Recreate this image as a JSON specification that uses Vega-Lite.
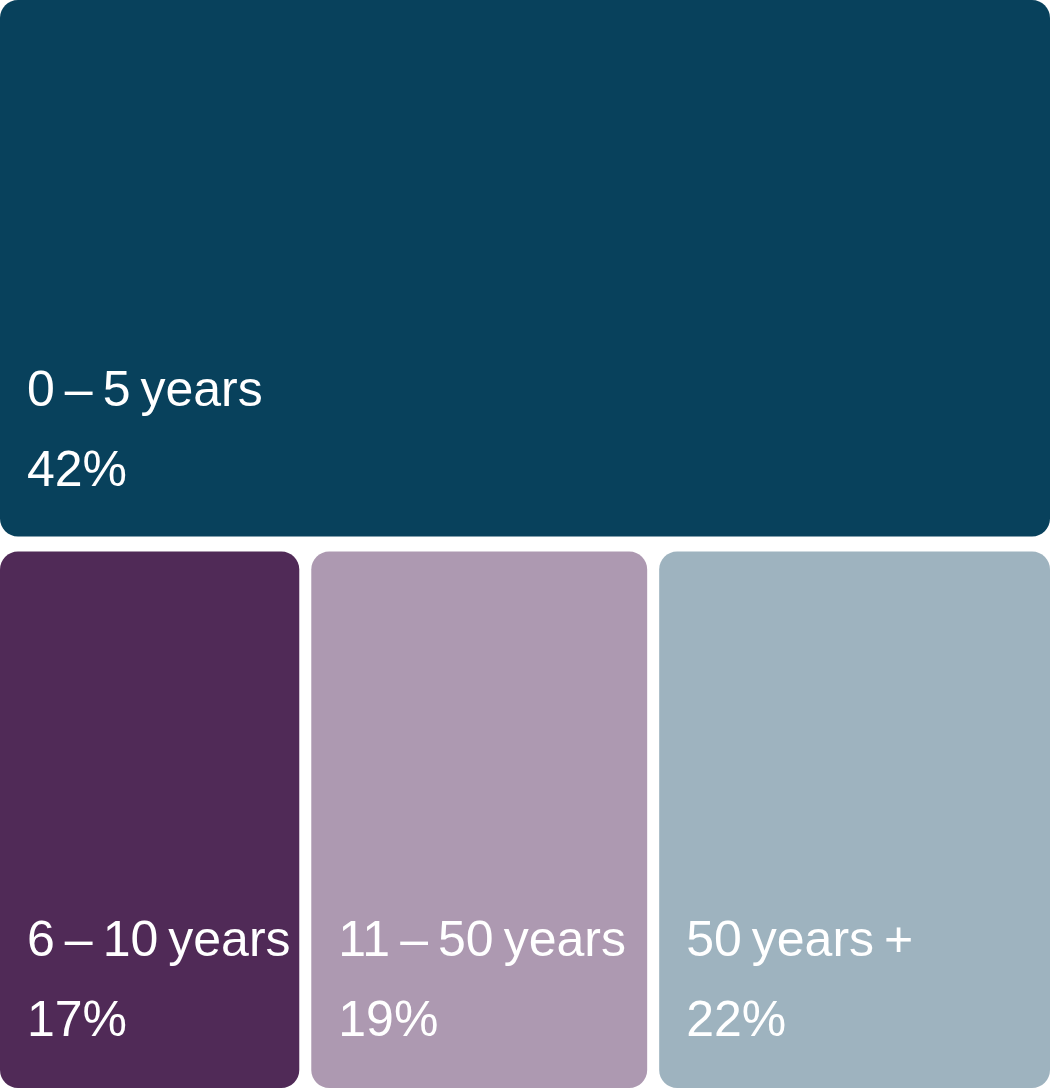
{
  "$schema": "https://vega.github.io/schema/vega-lite/v6.json",
  "width": 1050,
  "height": 1088,
  "padding": 0,
  "autosize": {"type": "none"},
  "background": "white",
  "config": {"view": {"stroke": null}},
  "data": {
    "values": [
      {"group": "0\u2009–\u20095\u2009years", "share": 42, "label": "42%", "row": "top", "order": 1},
      {"group": "6\u2009–\u200910\u2009years", "share": 17, "label": "17%", "row": "bottom", "order": 1},
      {"group": "11\u2009–\u200950\u2009years", "share": 19, "label": "19%", "row": "bottom", "order": 2},
      {"group": "50\u2009years\u2009+", "share": 22, "label": "22%", "row": "bottom", "order": 3}
    ]
  },
  "transform": [
    {"stack": "share", "groupby": ["row"], "sort": [{"field": "order"}], "offset": "normalize", "as": ["x0", "x1"]}
  ],
  "encoding": {
    "y": {"field": "row", "type": "nominal", "axis": null,
      "scale": {"domain": ["top", "bottom"], "paddingInner": 0.0272, "paddingOuter": 0}}
  },
  "layer": [
    {
      "transform": [{"filter": "datum.row === 'top'"}],
      "encoding": {
        "x": {"field": "x0", "type": "quantitative", "axis": null, "scale": {"domain": [0, 1], "range": [0, 1050], "nice": false, "zero": false}},
        "x2": {"field": "x1"}
      },
      "layer": [
        {
          "mark": {"type": "rect", "cornerRadius": 18},
          "encoding": {
            "color": {"field": "order", "type": "nominal", "legend": null,
              "scale": {"domain": [1], "range": ["#08415C"]}}
          }
        },
        {
          "mark": {"type": "text", "align": "left", "baseline": "alphabetic", "dx": 27, "dy": -130, "font": "Liberation Sans", "fontSize": 50, "letterSpacing": -1, "color": "white"},
          "encoding": {"x": {"field": "x0", "type": "quantitative"}, "y": {"field": "row", "type": "nominal", "bandPosition": 1}, "text": {"field": "group"}}
        },
        {
          "mark": {"type": "text", "align": "left", "baseline": "alphabetic", "dx": 27, "dy": -50, "font": "Liberation Sans", "fontSize": 50, "letterSpacing": -1, "color": "white"},
          "encoding": {"x": {"field": "x0", "type": "quantitative"}, "y": {"field": "row", "type": "nominal", "bandPosition": 1}, "text": {"field": "label"}}
        }
      ]
    },
    {
      "transform": [{"filter": "datum.row === 'bottom'"}],
      "encoding": {
        "x": {"field": "x0", "type": "quantitative", "axis": null, "scale": {"domain": [0, 1], "range": [0, 1062], "nice": false, "zero": false}},
        "x2": {"field": "x1"}
      },
      "layer": [
        {
          "mark": {"type": "rect", "cornerRadius": 18, "x2Offset": -12},
          "encoding": {
            "fill": {"field": "order", "type": "nominal", "legend": null,
              "scale": {"domain": [1, 2, 3], "range": ["#502A57", "#AD99B1", "#9EB3BF"]}}
          }
        },
        {
          "mark": {"type": "text", "align": "left", "baseline": "alphabetic", "dx": 27, "dy": -132, "font": "Liberation Sans", "fontSize": 50, "letterSpacing": -1, "color": "white"},
          "encoding": {"x": {"field": "x0", "type": "quantitative"}, "y": {"field": "row", "type": "nominal", "bandPosition": 1}, "text": {"field": "group"}}
        },
        {
          "mark": {"type": "text", "align": "left", "baseline": "alphabetic", "dx": 27, "dy": -52, "font": "Liberation Sans", "fontSize": 50, "letterSpacing": -1, "color": "white"},
          "encoding": {"x": {"field": "x0", "type": "quantitative"}, "y": {"field": "row", "type": "nominal", "bandPosition": 1}, "text": {"field": "label"}}
        }
      ]
    }
  ],
  "resolve": {"scale": {"x": "independent", "color": "independent", "fill": "independent"}}
}
